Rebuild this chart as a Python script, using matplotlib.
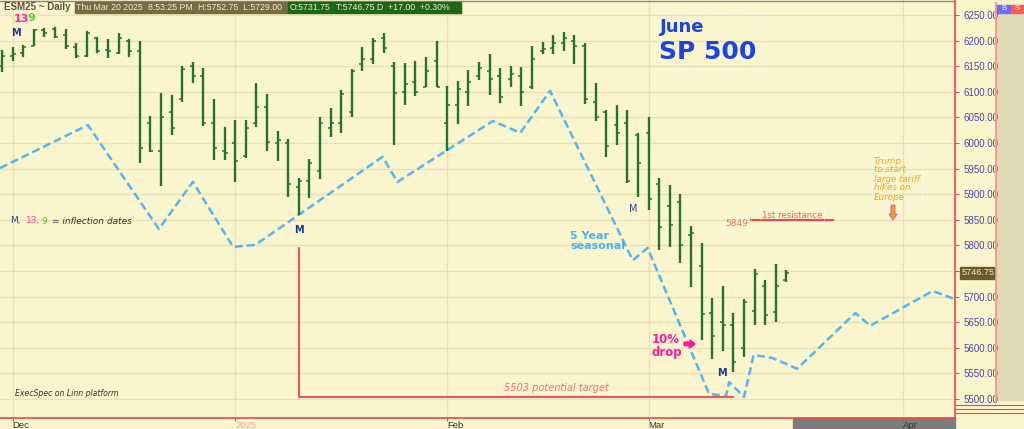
import numpy as np
import matplotlib.pyplot as plt
from matplotlib.patches import Rectangle, FancyArrow

# ---- data (ESM25 daily bars) ----
bar_idx = list(range(75))
highs = [6182, 6187, 6191, 6223, 6225, 6227, 6223, 6195, 6219, 6207,
         6203, 6215, 6203, 6199, 6053, 6098, 6094, 6150, 6158, 6146,
         6086, 6031, 6045, 6045, 6117, 6096, 6023, 6008, 5932, 5969,
         6051, 6068, 6104, 6145, 6188, 6205, 6215, 6158, 6156, 6160,
         6168, 6199, 6111, 6121, 6143, 6158, 6174, 6146, 6150, 6148,
         6189, 6197, 6211, 6217, 6211, 6195, 6117, 6064, 6074, 6064,
         6020, 6051, 5932, 5918, 5900, 5838, 5805, 5697, 5721, 5668,
         5695, 5754, 5732, 5764, 5752.75]
lows = [6139, 6160, 6168, 6189, 6207, 6205, 6184, 6166, 6168, 6176,
        6166, 6174, 6168, 5961, 5982, 5916, 6016, 6080, 6117, 6033,
        5967, 5967, 5924, 5971, 6031, 5984, 5965, 5894, 5859, 5893,
        5930, 6012, 6019, 6051, 6141, 6154, 6176, 5996, 6074, 6092,
        6109, 6109, 5984, 6037, 6072, 6123, 6094, 6078, 6109, 6072,
        6105, 6174, 6174, 6180, 6154, 6076, 6043, 5973, 5996, 5922,
        5895, 5869, 5791, 5797, 5766, 5719, 5615, 5578, 5594, 5553,
        5582, 5645, 5645, 5650, 5729]
opens = [6150, 6170, 6175, 6190, 6220, 6222, 6210, 6188, 6170, 6205,
         6182, 6176, 6200, 6180, 6040, 5985, 6060, 6085, 6150, 6130,
         6040, 5985, 6000, 5975, 6040, 6070, 6000, 6000, 5915, 5925,
         5945, 6030, 6040, 6060, 6155, 6165, 6205, 6150, 6100, 6120,
         6110, 6160, 6040, 6075, 6100, 6130, 6140, 6130, 6125, 6130,
         6110, 6180, 6185, 6195, 6200, 6190, 6080, 6060, 6035, 6040,
         6015, 6020, 5920, 5877, 5885, 5820, 5760, 5668, 5650, 5645,
         5600, 5672, 5720, 5670, 5731.75]
closes = [6170, 6174, 6187, 6221, 6214, 6208, 6190, 6170, 6215, 6180,
          6180, 6205, 6180, 5990, 5985, 6050, 6030, 6145, 6130, 6040,
          5990, 5980, 5965, 6030, 6070, 6002, 6005, 5920, 5925, 5960,
          6040, 6040, 6095, 6140, 6165, 6200, 6185, 6097, 6115, 6100,
          6140, 6110, 6075, 6105, 6120, 6146, 6125, 6090, 6135, 6100,
          6165, 6183, 6195, 6205, 6190, 6085, 6050, 5995, 6020, 5925,
          5960, 5890, 5836, 5840, 5800, 5824, 5666, 5623, 5645, 5572,
          5690, 5745, 5665, 5720, 5746.75]

# 5 year seasonal (bar position, price)
seas_x = [-0.19, 8.1, 14.8, 18.0, 21.8, 23.9, 35.9, 37.3, 46.3, 48.9,
          51.7, 59.5, 60.9, 66.7, 68.3, 68.6, 70.0, 70.9, 72.7, 75.0,
          80.5, 81.9, 87.8, 89.9]
seas_y = [5951, 6035, 5832, 5924, 5797, 5801, 5973, 5924, 6043, 6020,
          6102, 5771, 5795, 5510, 5506, 5533, 5504, 5586, 5580, 5559,
          5668, 5643, 5711, 5695]

month_pos = [1, 22, 42, 61, 85]
month_lbl = ['Dec', '2025', 'Feb', 'Mar', 'Apr']
price_ticks = np.arange(5500, 6251, 50)

target = 5503
target_x0, target_x1 = 28, 69.0
target_top = 5795
resist = 5849
resist_x0, resist_x1 = 70.7, 78.4
last_close = 5746.75

W, H = 1024, 429
BG = '#fbf5cd'
GRID = '#e8e0b6'
RED = '#e84848'
NARROW = 'Liberation Sans'


def fxy(x, y):
    return x / W, 1 - y / H


fig = plt.figure(figsize=(W / 100, H / 100), dpi=100, facecolor=BG)
ax = fig.add_axes([0, 11 / H, 955 / W, 418 / H], facecolor=BG)
ax.set_xlim(-0.19, 89.9)
ax.set_ylim(5462.9, 6279.3)

for p in price_ticks:
    ax.axhline(p, color=GRID, lw=1, zorder=0)
for m in month_pos:
    ax.axvline(m, color=GRID, lw=1, zorder=0)

# OHLC bars
bar_col = '#24742a'
ax.vlines(bar_idx, lows, highs, color=bar_col, lw=1.7, zorder=3)
ax.hlines(opens, np.array(bar_idx) - 0.28, bar_idx, color=bar_col, lw=1.1, zorder=3)
ax.hlines(closes, bar_idx, np.array(bar_idx) + 0.28, color=bar_col, lw=1.1, zorder=3)

# seasonal
ax.plot(seas_x, seas_y, color='#52b6f2', lw=1.8, ls=(0, (3.2, 1.6)), zorder=2)

# target / resistance lines
ax.plot([target_x0, target_x0, target_x1], [target_top, target, target],
        color=RED, lw=1.3, zorder=2)
ax.plot([resist_x0, resist_x1], [resist, resist], color=RED, lw=1.5, zorder=2)

# axes styling
for s in ['top', 'left']:
    ax.spines[s].set_visible(False)
ax.spines['right'].set_color(RED)
ax.spines['bottom'].set_color(RED)
ax.spines['right'].set_linewidth(1.2)
ax.spines['bottom'].set_linewidth(1.2)
ax.yaxis.tick_right()
ax.set_yticks(price_ticks)
# the 5750 label sits under the last-price box
ax.set_yticklabels(['' if p == 5750 else '%.2f' % p for p in price_ticks],
                   family=NARROW)
ax.tick_params(axis='y', colors=RED, labelcolor='#4848a8', length=3,
               labelsize=7, pad=3)
ax.set_xticks(month_pos)
ax.set_xticklabels(month_lbl, family=NARROW)
ax.tick_params(axis='x', colors=RED, labelcolor='#333333', length=2,
               labelsize=6.8, pad=0)
for t in ax.get_xticklabels():
    t.set_ha('left')
ax.get_xticklabels()[1].set_color('#f0a8a8')

# grey strip for future dates and right panel
fig.patches.append(Rectangle(fxy(793, 429), 162 / W, 11 / H,
                             transform=fig.transFigure, color='#7c7c7c', zorder=-1))
fig.patches.append(Rectangle(fxy(997, 400), 27 / W, 395 / H,
                             transform=fig.transFigure, color='#dedab4', zorder=-1))
fig.add_artist(plt.Line2D([996 / W, 996 / W], [1 - 400 / H, 1 - 3 / H],
                          transform=fig.transFigure, color='#f0a090', lw=1.5))
for yy in [405, 409, 413]:
    fig.add_artist(plt.Line2D([956 / W, 1], [1 - yy / H] * 2,
                              transform=fig.transFigure, color=RED, lw=0.8))
fig.patches.append(Rectangle(fxy(997, 13), 13 / W, 8 / H,
                             transform=fig.transFigure, color='#6a6af4', zorder=2))
fig.patches.append(Rectangle(fxy(1011, 13), 12 / W, 8 / H,
                             transform=fig.transFigure, color='#f85a5a', zorder=2))
fig.text(*fxy(1003.5, 9), 'B', color='white', fontsize=5.5, ha='center',
         va='center', zorder=3, family=NARROW)
fig.text(*fxy(1017, 9), 'S', color='white', fontsize=5.5, ha='center',
         va='center', zorder=3, family=NARROW)

# header
fig.text(*fxy(4, 7), 'ESM25 ~ Daily', color='#555544', fontsize=7,
         fontweight='bold', va='center', family=NARROW)
hdr = [(75, 146, 'Thu Mar 20 2025', '#7a6a42'),
       (147, 196, '8:53:25 PM', '#7a6a42'),
       (197, 287, 'H:5752.75  L:5729.00', '#7a6a42'),
       (288, 333, 'O:5731.75', '#1f6614'),
       (334, 461, 'T:5746.75 D  +17.00  +0.30%', '#1f6614')]
for x0, x1, txt, c in hdr:
    fig.patches.append(Rectangle(fxy(x0, 13), (x1 - x0) / W, 11 / H,
                                 transform=fig.transFigure, color=c, zorder=2))
    fig.text(*fxy(x0 + 1.5, 7.5), txt, color='#ecebd8', fontsize=6.3,
             va='center', zorder=3, family=NARROW)

# last price label
ly = 15 + (6250 - last_close) * 0.512
fig.patches.append(Rectangle(fxy(960, ly + 6), 34 / W, 12 / H,
                             transform=fig.transFigure, color='#6b5a2c', zorder=2))
fig.text(*fxy(961.5, ly), '%.2f' % last_close, color='#ecebd8', fontsize=6.6,
         va='center', zorder=3, family=NARROW)

# annotations
fig.text(*fxy(21, 19), '13', color='#ff2a9a', fontsize=8, fontweight='bold',
         ha='center', va='center')
fig.text(*fxy(31, 18), '9', color='#44dd22', fontsize=8, fontweight='bold',
         ha='center', va='center')
box = dict(facecolor='none', edgecolor='white', lw=0.6, ls=':', pad=1.5)
for x, y, bold, c in [(16, 33, True, '#1a3a9a'), (299, 230, True, '#1a3a9a'),
                      (633, 209, False, '#2a4a8a'), (722, 373, True, '#1a3a9a')]:
    fig.text(*fxy(x, y), 'M', color=c, fontsize=7,
             fontweight='bold' if bold else 'normal', ha='center', va='center',
             bbox=box)

fig.text(*fxy(10, 221), 'M,', color='#2a4a8a', fontsize=6.5, va='center')
fig.text(*fxy(26, 221), '13,', color='#ff3aa0', fontsize=6.5, va='center')
fig.text(*fxy(41, 221), '9', color='#44cc22', fontsize=6.5, va='center')
fig.text(*fxy(52, 221), '= inflection dates', color='#333333', fontsize=6.5,
         style='italic', va='center')
fig.text(*fxy(15, 394), 'ExecSpec on Linn platform', color='#333333',
         fontsize=5.6, style='italic', va='center')

fig.text(*fxy(660, 27), 'June', color='#1a44e6', fontsize=13,
         fontweight='bold', va='center')
fig.text(*fxy(659, 52), 'SP 500', color='#1a44e6', fontsize=18,
         fontweight='bold', va='center')
fig.patches.append(Rectangle(fxy(657, 68), 105 / W, 56 / H, transform=fig.transFigure,
                             fill=False, edgecolor='white', lw=0.8, ls=':', zorder=2))

fig.text(*fxy(570, 241), '5 Year\nseasonal', color='#46b2f0', fontsize=8,
         fontweight='bold', va='center', linespacing=1.05)
fig.text(*fxy(652, 346), '10%\ndrop', color='#ff1a9c', fontsize=8.5,
         fontweight='bold', va='center', linespacing=1.0)
fig.add_artist(FancyArrow(684 / W, 1 - 344 / H, 11 / W, 0, width=3.5 / H,
                          head_width=8 / H, head_length=5 / W,
                          transform=fig.transFigure, color='#ff1a9c',
                          length_includes_head=True))

fig.text(*fxy(556, 388), '%d potential target' % target, color='#f07070',
         fontsize=7, style='italic', ha='center', va='center')
fig.text(*fxy(737, 223), '%d' % resist, color='#f07070', fontsize=6.5,
         ha='center', va='center', bbox=box)
fig.text(*fxy(792, 215), '1st resistance', color='#f06060', fontsize=6.2,
         ha='center', va='center', bbox=box)

fig.text(*fxy(874, 179), 'Trump\nto start\nlarge tariff\nhikes on\nEurope',
         color='#f0a818', fontsize=6.3, style='italic', va='center',
         linespacing=1.0, bbox=box)
fig.add_artist(FancyArrow(893 / W, 1 - 205 / H, 0, -15 / H, width=4 / W,
                          head_width=8 / W, head_length=6 / H,
                          transform=fig.transFigure, facecolor='#f0a818',
                          edgecolor='#e040d0', lw=0.6,
                          length_includes_head=True))

fig.add_artist(plt.Line2D([0, 955 / W], [1 - 0.5 / H] * 2,
                          transform=fig.transFigure, color='#888888', lw=1))

fig.savefig('out.png', dpi=100, facecolor=BG)
